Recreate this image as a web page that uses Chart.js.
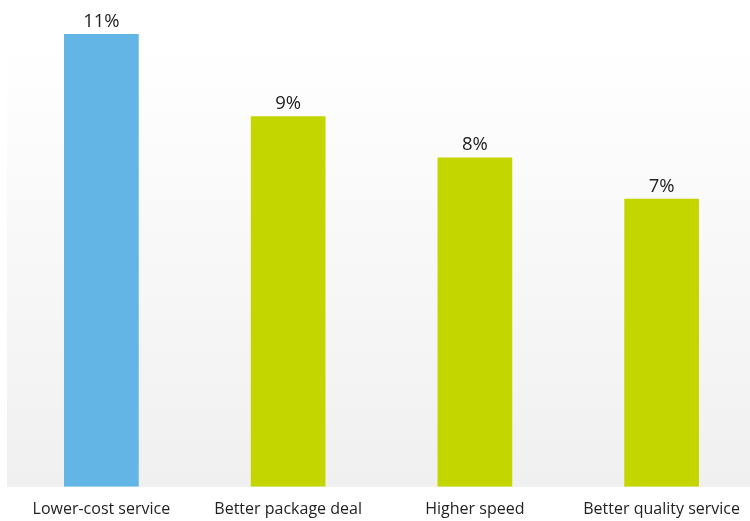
<!DOCTYPE html>
<html>
<head>
<meta charset="utf-8">
<script src="https://cdn.jsdelivr.net/npm/chart.js@4"></script>
<style>
  html, body { margin: 0; padding: 0; background: #fff; overflow: hidden; }
  #wrap { width: 755px; height: 532px; }
</style>
</head>
<body>
<div id="wrap"><canvas id="bar-chart"></canvas></div>
<script>
// dados do gráfico
const categories = ['Lower-cost service', 'Better package deal', 'Higher speed', 'Better quality service'];
const shares = [11, 9, 8, 7];
const barColors = ['#62b5e5', '#c4d600', '#c4d600', '#c4d600'];

// fundo em degradê atrás das barras
const backgroundPlugin = {
    id: 'gradientBg',
    beforeDatasetsDraw(chart) {
        const { ctx, chartArea, scales } = chart;
        const top = scales.y.getPixelForValue(10.85);
        const grad = ctx.createLinearGradient(0, top, 0, chartArea.bottom);
        grad.addColorStop(0, '#ffffff');
        grad.addColorStop(1, '#f0f0f0');
        ctx.save();
        ctx.fillStyle = grad;
        ctx.fillRect(chartArea.left - 1, top, 750 - chartArea.left + 1, chartArea.bottom - top);
        ctx.restore();
    }
};

// rótulos de valor acima das barras
const valueLabels = {
    id: 'valueLabels',
    afterDatasetsDraw(chart) {
        const { ctx } = chart;
        const meta = chart.getDatasetMeta(0);
        ctx.save();
        ctx.font = '18.5px "Open Sans"';
        ctx.fillStyle = '#222';
        ctx.textAlign = 'center';
        ctx.textBaseline = 'alphabetic';
        meta.data.forEach((bar, i) => {
            ctx.fillText(shares[i] + '%', bar.x, bar.y - 7);
        });
        ctx.restore();
    }
};

const ctx = document.getElementById('bar-chart').getContext('2d');
new Chart(ctx, {
    type: 'bar',
    data: {
        labels: categories,
        datasets: [{
            data: shares,
            backgroundColor: barColors,
            barPercentage: 0.4,
            categoryPercentage: 1
        }]
    },
    options: {
        responsive: true,
        maintainAspectRatio: false,
        animation: false,
        layout: { padding: { top: 34, left: 8, right: 0, bottom: 0 } },
        plugins: { legend: { display: false }, tooltip: { enabled: false } },
        scales: {
            x: {
                grid: { display: false, drawTicks: false },
                border: { display: false },
                ticks: {
                    color: '#222',
                    font: { family: 'Open Sans', size: 16 },
                    maxRotation: 0,
                    padding: 13
                }
            },
            y: {
                display: false,
                min: 0,
                max: 11
            }
        }
    },
    plugins: [backgroundPlugin, valueLabels]
});
</script>
</body>
</html>
